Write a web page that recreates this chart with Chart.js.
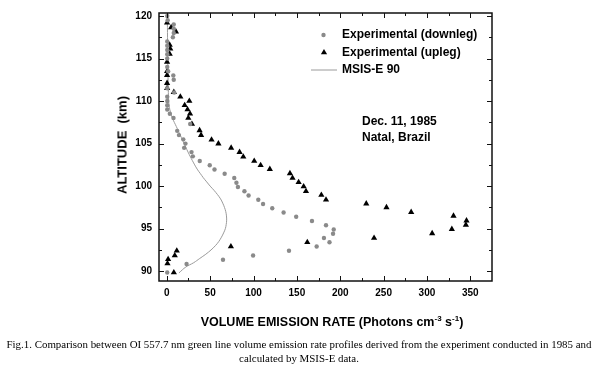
<!DOCTYPE html>
<html>
<head>
<meta charset="utf-8">
<script src="https://cdn.jsdelivr.net/npm/chart.js@4.4.0/dist/chart.umd.min.js"></script>
<style>
body { margin: 0; background: #fff; }
#wrap { position: relative; width: 598px; height: 367px; overflow: hidden; }
#chart { position: absolute; left: 0; top: 0; }
.lbl { position: absolute; font-family: "Liberation Sans", Arial, sans-serif; font-weight: bold; color: #000; white-space: nowrap; }
#ytitle { font-size: 13px; left: 122px; top: 145px; transform: translate(-50%, -50%) rotate(-90deg); }
#xtitle { font-size: 12.5px; left: 332px; top: 322px; transform: translate(-50%, -50%); }
#xtitle sup { font-size: 8px; vertical-align: 5px; line-height: 0; }
#note { font-size: 12px; left: 362px; top: 113px; line-height: 16px; }
#caption { position: absolute; left: 0; top: 337px; width: 598px; text-align: center; font-family: "Liberation Serif", "Times New Roman", serif; font-size: 10.9px; line-height: 14px; color: #000; white-space: nowrap; }
</style>
</head>
<body>
<div id="wrap">
  <canvas id="chart" width="598" height="367"></canvas>
  <div class="lbl" id="ytitle">ALTITUDE&nbsp; (km)</div>
  <div class="lbl" id="xtitle">VOLUME EMISSION RATE (Photons cm<sup>-3</sup> s<sup>-1</sup>)</div>
  <div class="lbl" id="note">Dec. 11, 1985<br>Natal, Brazil</div>
  <div id="caption">Fig.1. Comparison between OI 557.7 nm green line volume emission rate profiles derived from the experiment conducted in 1985 and<br>calculated by MSIS-E data.</div>
</div>
<script>
// series labels
const seriesNames = ["Experimental (downleg)", "Experimental (upleg)", "MSIS-E 90"];

// downleg: altitude (km) and emission rate
const downlegAlt = [120.0, 119.5, 119.0, 118.5, 118.0, 117.5, 117.0, 116.5, 116.0, 115.5, 115.0, 114.0, 113.5, 113.0, 112.5, 111.5, 111.0, 110.5, 110.0, 109.5, 109.0, 108.5, 108.0, 107.3, 106.5, 106.0, 105.5, 105.0, 104.5, 104.0, 103.5, 102.95, 102.45, 101.95, 101.45, 100.95, 100.4, 99.9, 99.4, 98.9, 98.4, 97.9, 97.4, 96.9, 96.4, 95.9, 95.4, 94.9, 94.4, 93.9, 93.4, 92.9, 92.4, 91.85, 91.35, 90.85, 89.85];
const downlegVer = [0.5, 1, 8, 8, 8, 7, 0.5, 0.5, 0.5, 0.5, 0.5, 0.5, 1.5, 7.5, 8, 0.5, 8.5, 0.5, 0.5, 0.5, 0.5, 3.5, 7.7, 27, 12, 14, 19, 21.5, 20, 28.5, 30, 38, 49.5, 55, 66.7, 77.8, 80.3, 82, 89.5, 94.3, 105.5, 111, 121.6, 134.7, 149.2, 167.4, 183.6, 192.5, 191.7, 181.2, 187.6, 172.8, 140.9, 99.5, 64.8, 22.8, 0.5];

// upleg
const uplegAlt = [119.2, 118.65, 118.15, 116.6, 116.15, 115.55, 114.6, 113.5, 113.05, 112.1, 111.5, 111.05, 110.5, 110.0, 109.5, 109.0, 108.5, 108.0, 107.3, 106.55, 106.0, 105.45, 105.0, 104.5, 104.0, 103.45, 102.95, 102.45, 102.0, 101.5, 100.95, 100.45, 99.95, 99.4, 98.95, 98.4, 97.95, 97.5, 96.95, 96.5, 95.95, 95.45, 94.95, 94.45, 93.9, 93.4, 92.9, 92.4, 91.85, 91.4, 90.9, 89.85];
const uplegVer = [0.3, 5, 10.5, 3.3, 4, 3.3, 0.3, 0.3, 0.3, 0.3, 0.3, 8.1, 15.6, 26, 20.6, 23.9, 26.8, 24.8, 29, 37.8, 39.5, 51.6, 59.5, 74.2, 83.9, 88.2, 100.8, 108.2, 118.8, 142, 145, 152, 157.8, 160.5, 178.2, 183.6, 230, 253.3, 281.8, 330.6, 345.6, 344.9, 328.7, 306, 239, 162, 73.9, 11.5, 9.2, 1.5, 0.8, 8.1];

// MSIS-E 90 model profile
const msisAlt = [89.8, 90.5, 91, 91.5, 92, 92.5, 93, 93.5, 94, 94.5, 95, 95.5, 96, 96.5, 97, 97.5, 98, 98.5, 99, 99.5, 100, 100.5, 101, 101.5, 102, 103, 104, 105, 106, 107, 108, 109, 110, 112, 115, 120];
const msisVer = [14, 22, 31, 38, 45, 51, 56, 60, 63, 65.5, 67.5, 68.5, 69, 68.8, 68, 66.5, 64.5, 62, 58.5, 54.5, 50, 46, 42, 38.5, 35, 29.5, 24.5, 20, 15.5, 11, 6.5, 3.5, 2.2, 1.6, 1.1, 0.6];

// axis ticks
const xTicks = [0, 50, 100, 150, 200, 250, 300, 350];
const yTicks = [90, 95, 100, 105, 110, 115, 120];

function toPoints(xs, ys) {
    return xs.map((v, i) => ({ x: v, y: ys[i] }));
}

const frameTicks = {
    id: "frameTicks",
    afterDraw(chart) {
        const ctx = chart.ctx;
        const a = chart.chartArea;
        const xs = chart.scales.x;
        const ys = chart.scales.y;
        ctx.save();
        ctx.strokeStyle = "#111";
        ctx.lineWidth = 1.5;
        ctx.strokeRect(a.left, a.top, a.right - a.left, a.bottom - a.top);
        ctx.lineWidth = 1;
        ctx.beginPath();
        xTicks.forEach(v => {
            const px = Math.round(xs.getPixelForValue(v)) + 0.5;
            ctx.moveTo(px, a.bottom); ctx.lineTo(px, a.bottom - 5);
            ctx.moveTo(px, a.top); ctx.lineTo(px, a.top + 5);
            const mx = Math.round(xs.getPixelForValue(v + 25)) + 0.5;
            if (v + 25 < xs.max) {
                ctx.moveTo(mx, a.bottom); ctx.lineTo(mx, a.bottom - 3);
                ctx.moveTo(mx, a.top); ctx.lineTo(mx, a.top + 3);
            }
        });
        yTicks.forEach(v => {
            const py = Math.round(ys.getPixelForValue(v)) + 0.5;
            ctx.moveTo(a.left, py); ctx.lineTo(a.left + 5, py);
            ctx.moveTo(a.right, py); ctx.lineTo(a.right - 5, py);
            if (v + 2.5 < ys.max) {
                const my = Math.round(ys.getPixelForValue(v + 2.5)) + 0.5;
                ctx.moveTo(a.left, my); ctx.lineTo(a.left + 3, my);
                ctx.moveTo(a.right, my); ctx.lineTo(a.right - 3, my);
            }
        });
        ctx.stroke();

        // legend inside the plot
        ctx.font = 'bold 12px "Liberation Sans", Arial, sans-serif';
        ctx.textBaseline = "middle";
        chart.data.datasets.forEach((ds, i) => {
            const y = 35 + i * 17.5;
            if (ds.showLine) {
                ctx.strokeStyle = ds.borderColor;
                ctx.lineWidth = ds.borderWidth;
                ctx.beginPath();
                ctx.moveTo(311, y); ctx.lineTo(337, y);
                ctx.stroke();
            } else {
                ctx.fillStyle = ds.backgroundColor;
                ctx.beginPath();
                if (ds.pointStyle === "triangle") {
                    const r = ds.pointRadius;
                    ctx.moveTo(324, y - r);
                    ctx.lineTo(324 + r * 0.866, y + r * 0.5);
                    ctx.lineTo(324 - r * 0.866, y + r * 0.5);
                    ctx.closePath();
                } else {
                    ctx.arc(323.5, y, ds.pointRadius, 0, Math.PI * 2);
                }
                ctx.fill();
            }
            ctx.fillStyle = "#000";
            ctx.fillText(ds.label, 342, y);
        });
        ctx.restore();
    }
};

const tickFont = { family: '"Liberation Sans", Arial, sans-serif', size: 10, weight: "bold" };

new Chart(document.getElementById("chart").getContext("2d"), {
    type: "scatter",
    data: {
        datasets: [
            {
                label: seriesNames[0],
                data: toPoints(downlegVer, downlegAlt),
                pointStyle: "circle",
                pointRadius: 2.2,
                pointBorderWidth: 0,
                backgroundColor: "#8a8a8a",
                borderColor: "#8a8a8a"
            },
            {
                label: seriesNames[1],
                data: toPoints(uplegVer, uplegAlt),
                pointStyle: "triangle",
                pointRadius: 3.6,
                pointBorderWidth: 0,
                backgroundColor: "#000",
                borderColor: "#000"
            },
            {
                label: seriesNames[2],
                data: toPoints(msisVer, msisAlt),
                showLine: true,
                tension: 0.4,
                pointRadius: 0,
                borderWidth: 1,
                borderColor: "#9a9a9a",
                backgroundColor: "#9a9a9a"
            }
        ]
    },
    options: {
        responsive: false,
        animation: false,
        layout: { padding: { left: 119, right: 106, top: 7, bottom: 66 } },
        plugins: { legend: { display: false }, tooltip: { enabled: false } },
        scales: {
            x: {
                type: "linear",
                min: -9,
                max: 375,
                afterFit: s => { s.height = 20; },
                grid: { display: false, drawTicks: false },
                border: { display: false },
                ticks: {
                    stepSize: 50,
                    includeBounds: false,
                    padding: 6,
                    color: "#000",
                    font: tickFont,
                    maxRotation: 0,
                    callback: v => (xTicks.includes(v) ? v : "")
                }
            },
            y: {
                type: "linear",
                min: 88.85,
                max: 120.35,
                afterFit: s => { s.width = 40; },
                grid: { display: false, drawTicks: false },
                border: { display: false },
                ticks: {
                    stepSize: 5,
                    includeBounds: false,
                    padding: 7,
                    color: "#000",
                    font: tickFont,
                    callback: v => (yTicks.includes(v) ? v : "")
                }
            }
        }
    },
    plugins: [frameTicks]
});
</script>
</body>
</html>
